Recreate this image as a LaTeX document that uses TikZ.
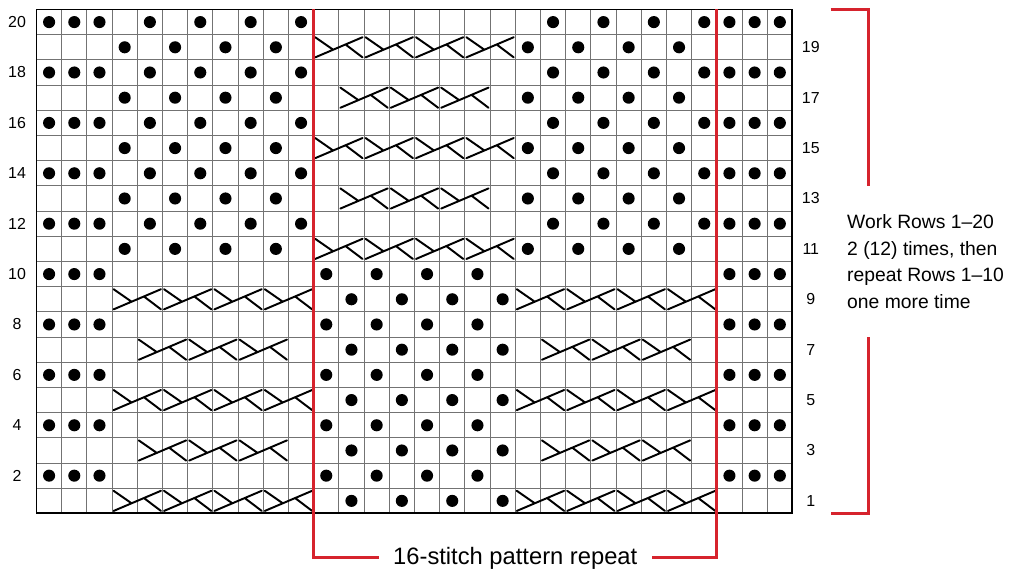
\documentclass[tikz,border=0pt]{standalone}
\usepackage{fontspec}
\setmainfont{Liberation Sans}
\usepackage{xcolor}
\usepackage{tikz}
\usetikzlibrary{positioning}
\definecolor{repred}{RGB}{214,35,45}
\newcommand{\cabx}[2]{\draw[cab] (#1+0.06,#2+0.1)--(#1+1.94,#2+0.9) (#1+0.06,#2+0.9)--(#1+0.774,#2+0.404) (#1+1.263,#2+0.612)--(#1+1.94,#2+0.1);}

\begin{document}
\begin{tikzpicture}[x=0.5cm,y=0.5cm,
  cab/.style={line width=1.1pt,line cap=round},
  redl/.style={draw=repred,line width=1.7pt},
  rownum/.style={font=\fontsize{9}{10}\selectfont}]
\useasboundingbox (-1.448,-2.758) rectangle (39.19,20.377);
\draw[black!55,line width=0.6pt,step=0.5cm] (0,0) grid (30,20);
\draw[line width=1.1pt] (0,0) rectangle (30,20);
% purl dots
\foreach \r in {20,18,...,12} \foreach \c in {1,2,3,5,7,9,11,21,23,25,27,28,29,30} \fill (\c-0.5,\r-0.5) circle (0.24);
\foreach \r in {19,17,...,11} \foreach \c in {4,6,8,10,20,22,24,26} \fill (\c-0.5,\r-0.5) circle (0.24);
\foreach \r in {10,8,...,2} \foreach \c in {1,2,3,12,14,16,18,28,29,30} \fill (\c-0.5,\r-0.5) circle (0.24);
\foreach \r in {9,7,...,1} \foreach \c in {13,15,17,19} \fill (\c-0.5,\r-0.5) circle (0.24);
% cables
\foreach \r in {19,15,11} \foreach \x in {11,13,15,17} {\cabx{\x}{\r-1}}
\foreach \r in {17,13} \foreach \x in {12,14,16} {\cabx{\x}{\r-1}}
\foreach \r in {9,5,1} \foreach \x in {3,5,7,9,19,21,23,25} {\cabx{\x}{\r-1}}
\foreach \r in {7,3} \foreach \x in {4,6,8,20,22,24} {\cabx{\x}{\r-1}}
% row numbers
\foreach \r in {2,4,...,20} \node[rownum] (l\r) at (-0.77,\r-0.5) {\r};
\foreach \r in {1,3,...,19} \node[rownum] (r\r) at (30.73,\r-0.5) {\r};
% repeat
\node[font=\fontsize{13.4}{16}\selectfont,inner sep=8pt] (rep) at (19,-1.766) {16-stitch pattern repeat};
\draw[redl] (11,20) |- (rep.west);
\draw[redl] (27,20) |- (rep.east);
\node[font=\fontsize{10.9}{15}\selectfont,align=left,anchor=west,inner sep=0] (work) at (32.16,10)
  {Work Rows 1\textendash20\\2 (12) times, then\\repeat Rows 1\textendash10\\one more time};
\draw[redl] (31.52,20) -- (33,20) -- (33,13);
\draw[redl] (33,7) -- (33,0) -- (31.52,0);
\end{tikzpicture}
\end{document}
